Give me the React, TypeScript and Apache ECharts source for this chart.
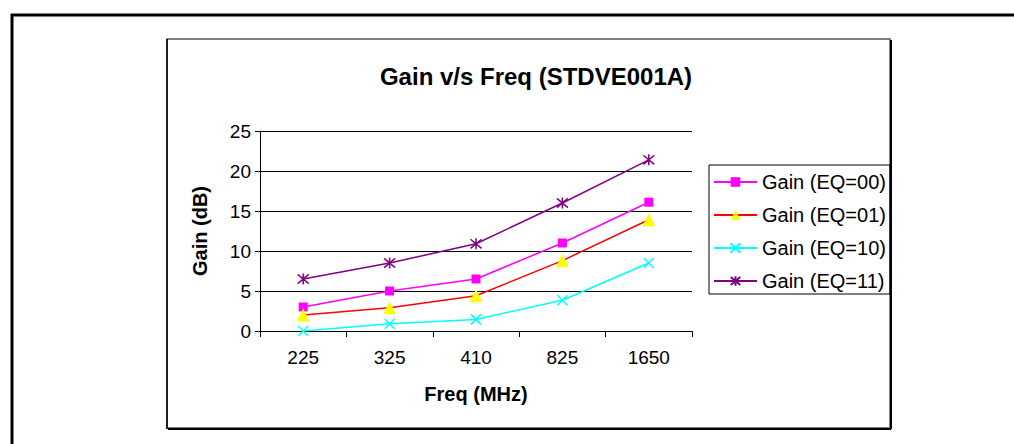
import React, { useEffect, useRef } from "react";
import * as echarts from "echarts";

const categories = ["225", "325", "410", "825", "1650"];
const gainEq00 = [3, 5, 6.5, 11, 16.1];
const gainEq01 = [2, 2.9, 4.4, 8.8, 13.9];
const gainEq10 = [0, 0.9, 1.45, 3.85, 8.5];
const gainEq11 = [6.5, 8.5, 10.9, 16.0, 21.4];
const seriesNames = ["Gain (EQ=00)", "Gain (EQ=01)", "Gain (EQ=10)", "Gain (EQ=11)"];

const FONT = "'Liberation Sans', Arial, sans-serif";

export default function App() {
  const ref = useRef<HTMLDivElement>(null);
  useEffect(() => {
    if (!ref.current) return;
    const chart = echarts.init(ref.current, undefined, { renderer: "svg" });
    const xSym = "path://M0,0L10,10M10,0L0,10";
    const starSym = "path://M0,0L10,10M10,0L0,10M5,-1L5,11";
    chart.setOption({
      animation: false,
      backgroundColor: "#fff",
      textStyle: { fontFamily: FONT },
      title: {
        text: "Gain v/s Freq (STDVE001A)",
        left: 531,
        top: 59,
        textAlign: "center",
        textStyle: { fontFamily: FONT, fontSize: 24, fontWeight: "bold", color: "#000" },
      },
      graphic: [
        { type: "line", shape: { x1: 12, y1: 14, x2: 12, y2: 444 }, style: { stroke: "#000", lineWidth: 3 } },
        { type: "line", shape: { x1: 11, y1: 15, x2: 1014, y2: 15 }, style: { stroke: "#000", lineWidth: 3 } },
        { type: "rect", shape: { x: 167, y: 39, width: 723, height: 389 }, style: { fill: "none", stroke: "#555", lineWidth: 1.5 } },
        { type: "line", shape: { x1: 167, y1: 39, x2: 167, y2: 429 }, style: { stroke: "#000", lineWidth: 1.5 } },
        { type: "line", shape: { x1: 168, y1: 429, x2: 891, y2: 429 }, style: { stroke: "#000", lineWidth: 2 } },
        { type: "line", shape: { x1: 891, y1: 40, x2: 891, y2: 429 }, style: { stroke: "#000", lineWidth: 2 } },
      ],
      legend: {
        orient: "vertical",
        left: 709,
        top: 165,
        padding: [7, 4, 3, 4],
        itemWidth: 43,
        itemHeight: 12,
        itemGap: 13,
        borderColor: "#000",
        borderWidth: 1,
        textStyle: { fontFamily: FONT, fontSize: 20, lineHeight: 20, color: "#000" },
        data: seriesNames,
      },
      grid: { left: 260, right: 322, top: 131, bottom: 113 },
      xAxis: {
        type: "category",
        data: categories,
        boundaryGap: true,
        name: "Freq (MHz)",
        nameLocation: "middle",
        nameGap: 53,
        nameTextStyle: { fontFamily: FONT, fontSize: 20, fontWeight: "bold", color: "#000" },
        axisLine: { lineStyle: { color: "#000", width: 1 } },
        axisTick: { show: true, length: 6, inside: false, lineStyle: { color: "#000" } },
        axisLabel: { fontFamily: FONT, fontSize: 19, color: "#000", margin: 17 },
      },
      yAxis: {
        type: "value",
        min: 0,
        max: 25,
        interval: 5,
        name: "Gain (dB)",
        nameLocation: "middle",
        nameGap: 50,
        nameTextStyle: { fontFamily: FONT, fontSize: 20, fontWeight: "bold", color: "#000" },
        axisLine: { show: true, lineStyle: { color: "#000", width: 1 } },
        axisTick: { show: true, length: 5, lineStyle: { color: "#000" } },
        axisLabel: { fontFamily: FONT, fontSize: 19, color: "#000", margin: 9 },
        splitLine: { show: true, lineStyle: { color: "#000", width: 1 } },
      },
      series: [
        {
          name: seriesNames[0],
          type: "line",
          data: gainEq00,
          symbol: "rect",
          symbolSize: 9,
          lineStyle: { color: "#FF00FF", width: 1.5 },
          itemStyle: { color: "#FF00FF" },
        },
        {
          name: seriesNames[1],
          type: "line",
          data: gainEq01,
          symbol: "triangle",
          symbolSize: 13,
          lineStyle: { color: "#FF0000", width: 1.5 },
          itemStyle: { color: "#FFFF00" },
        },
        {
          name: seriesNames[2],
          type: "line",
          data: gainEq10,
          symbol: xSym,
          symbolSize: 10,
          lineStyle: { color: "#00FFFF", width: 1.5 },
          itemStyle: { color: "#00FFFF", borderColor: "#00FFFF", borderWidth: 1.5 },
        },
        {
          name: seriesNames[3],
          type: "line",
          data: gainEq11,
          symbol: starSym,
          symbolSize: 11,
          lineStyle: { color: "#800080", width: 1.5 },
          itemStyle: { color: "#800080", borderColor: "#800080", borderWidth: 1.5 },
        },
      ],
    });
    return () => chart.dispose();
  }, []);
  return <div ref={ref} style={{ position: "absolute", left: 0, top: 0, width: 1014, height: 444 }} />;
}
